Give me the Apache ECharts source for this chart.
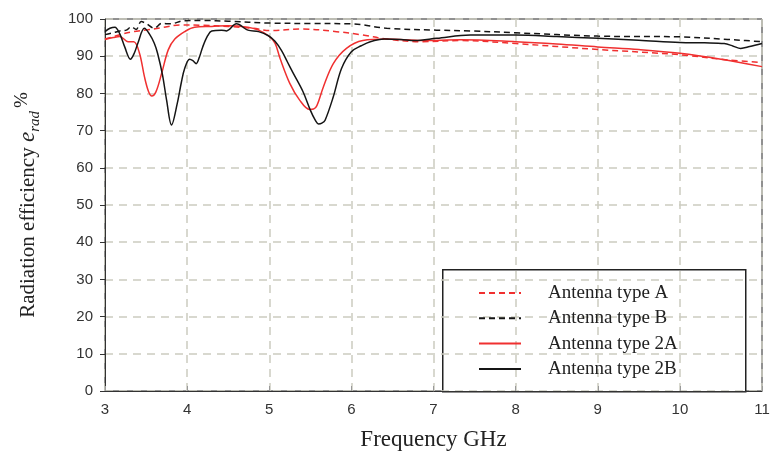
<!DOCTYPE html>
<html>
<head>
<meta charset="utf-8">
<script src="https://cdn.jsdelivr.net/npm/echarts@6/dist/echarts.min.js"></script>
<style>
  html, body { margin: 0; padding: 0; background: #fff; }
  #chart { width: 770px; height: 457px; }
</style>
</head>
<body>
<div id="chart"></div>
<script>
  /* axis ticks */
  var xTicks = [3, 4, 5, 6, 7, 8, 9, 10, 11];
  var yTicks = [0, 10, 20, 30, 40, 50, 60, 70, 80, 90, 100];

  /* Antenna type A (red dashed) */
  var freqA = [3.0, 3.17, 3.34, 3.52, 3.70, 3.91, 4.2, 4.5, 4.8, 5.0, 5.41, 5.82, 6.14, 6.43, 6.86, 7.33, 8.0, 9.0, 10.0, 10.58, 11.0];
  var effA  = [94.6, 95.7, 96.6, 97.1, 97.7, 98.4, 98.3, 98.0, 97.5, 96.9, 97.3, 96.6, 95.7, 94.6, 93.9, 94.2, 93.4, 91.8, 90.4, 89.0, 88.3];

  /* Antenna type B (black dashed) */
  var freqB = [3.0, 3.1, 3.18, 3.26, 3.32, 3.38, 3.44, 3.50, 3.60, 3.69, 3.80, 3.95, 4.2, 4.5, 5.0, 5.5, 6.0, 6.43, 7.04, 7.45, 8.0, 9.0, 10.0, 10.58, 10.8, 11.0];
  var effB  = [95.8, 96.3, 96.8, 97.0, 97.9, 97.2, 99.3, 98.8, 97.5, 98.8, 98.7, 99.5, 99.6, 99.4, 98.9, 98.8, 98.7, 97.5, 97.0, 96.8, 96.3, 95.4, 95.2, 94.5, 94.2, 93.9];

  /* Antenna type 2A (red solid) */
  var freq2A = [3.0, 3.1, 3.18, 3.28, 3.35, 3.42, 3.48, 3.53, 3.57, 3.62, 3.69, 3.77, 3.85, 3.97, 4.09, 4.3, 4.49, 4.74, 4.87, 4.99, 5.07, 5.13, 5.25, 5.37, 5.49, 5.54, 5.58, 5.66, 5.78, 5.94, 6.14, 6.43, 6.86, 7.33, 8.0, 8.5, 9.0, 9.5, 10.0, 10.5, 11.0];
  var eff2A  = [94.5, 95.0, 95.3, 93.9, 93.9, 90.8, 84.5, 80.5, 79.3, 80.4, 85.4, 91.7, 94.6, 96.6, 97.8, 98.0, 98.2, 97.8, 97.0, 95.5, 93.5, 89.5, 82.7, 78.2, 75.7, 75.8, 76.7, 81.8, 88.0, 92.1, 94.2, 94.6, 94.2, 94.4, 93.9, 93.3, 92.5, 91.8, 90.8, 89.2, 87.2];

  /* Antenna type 2B (black solid) */
  var freq2B = [3.0, 3.06, 3.12, 3.18, 3.24, 3.31, 3.36, 3.40, 3.48, 3.54, 3.60, 3.64, 3.70, 3.75, 3.81, 3.88, 3.93, 3.97, 4.03, 4.07, 4.11, 4.15, 4.19, 4.25, 4.30, 4.42, 4.48, 4.60, 4.74, 4.87, 4.99, 5.07, 5.15, 5.22, 5.29, 5.41, 5.50, 5.56, 5.60, 5.64, 5.68, 5.78, 5.88, 6.0, 6.12, 6.23, 6.4, 6.6, 6.77, 7.04, 7.45, 8.0, 8.5, 9.0, 9.5, 10.0, 10.3, 10.54, 10.65, 10.74, 10.85, 11.0];
  var eff2B  = [96.6, 97.5, 97.8, 96.0, 92.5, 89.2, 91.0, 93.5, 97.5, 96.0, 93.5, 90.8, 85.0, 78.2, 71.5, 77.3, 83.0, 86.7, 89.2, 88.8, 88.0, 89.8, 92.5, 95.5, 96.8, 97.0, 96.8, 98.7, 97.0, 96.6, 95.5, 94.0, 91.5, 88.5, 85.5, 80.5, 75.5, 72.8, 71.8, 72.0, 72.8, 79.1, 86.7, 91.2, 92.8, 93.9, 94.6, 94.5, 94.2, 94.8, 95.7, 95.7, 95.3, 94.8, 94.3, 93.7, 93.6, 93.4, 92.7, 92.1, 92.6, 93.4];

  function pairs(xs, ys) {
    var out = [];
    for (var i = 0; i < xs.length; i++) out.push([xs[i], ys[i]]);
    return out;
  }

  var RED = '#f03030';
  var BLACK = '#151515';
  var SERIF = '"Liberation Serif", "Times New Roman", serif';
  var SANS = '"Liberation Sans", Arial, sans-serif';

  function makeSeries(name, xs, ys, color, dashed) {
    return {
      name: name,
      type: 'line',
      data: pairs(xs, ys),
      smooth: 0.35,
      symbol: 'none',
      lineStyle: {
        color: color,
        width: 1.5,
        type: dashed ? [6, 4] : 'solid'
      },
      itemStyle: { color: color },
      z: dashed ? 2 : 3
    };
  }

  var chart = echarts.init(document.getElementById('chart'), null, { renderer: 'canvas' });

  var option = {
    animation: false,
    backgroundColor: '#fff',
    grid: {
      left: 105,
      right: 8,
      top: 19,
      bottom: 66,
      outerBoundsMode: 'none',
      show: true,
      borderColor: '#222',
      borderWidth: 1
    },
    xAxis: {
      type: 'value',
      min: xTicks[0],
      max: xTicks[xTicks.length - 1],
      interval: 1,
      name: 'Frequency GHz',
      nameLocation: 'middle',
      nameGap: 37,
      nameTextStyle: { fontFamily: SERIF, fontSize: 23, color: '#222' },
      axisLine: { lineStyle: { color: '#333', width: 1 } },
      axisTick: { inside: true, length: 5, lineStyle: { color: '#999' } },
      axisLabel: { fontFamily: SANS, fontSize: 15, color: '#333', margin: 11 },
      splitLine: { show: true, lineStyle: { color: '#cbcbc0', width: 1.5, type: [8, 6] } }
    },
    yAxis: {
      type: 'value',
      min: yTicks[0],
      max: yTicks[yTicks.length - 1],
      interval: 10,
      name: 'Radiation efficiency {e|e}{sub|rad}{sup|%}',
      nameLocation: 'middle',
      nameGap: 62,
      nameTextStyle: {
        fontFamily: SERIF,
        fontSize: 21,
        color: '#222',
        lineHeight: 30,
        rich: {
          e: { fontFamily: SERIF, fontStyle: 'italic', fontSize: 23, color: '#222', lineHeight: 30 },
          sub: { fontFamily: SERIF, fontStyle: 'italic', fontSize: 15, color: '#222', verticalAlign: 'bottom', lineHeight: 30, padding: [0, 3, 0, 0] },
          sup: { fontFamily: SERIF, fontSize: 19, color: '#222', verticalAlign: 'top', lineHeight: 30 }
        }
      },
      axisLine: { show: true, lineStyle: { color: '#333', width: 1 } },
      axisTick: { show: true, length: 5, lineStyle: { color: '#333' } },
      axisLabel: { fontFamily: SANS, fontSize: 15, color: '#333', margin: 12 },
      splitLine: { show: true, lineStyle: { color: '#cbcbc0', width: 1.5, type: [8, 6] } }
    },
    legend: {
      orient: 'vertical',
      left: 442,
      top: 269,
      padding: [14, 10, 10, 36],
      itemWidth: 42,
      itemHeight: 14,
      itemGap: 5.3,
      itemStyle: { color: 'rgba(0,0,0,0)', borderColor: 'rgba(0,0,0,0)', borderWidth: 0 },
      textStyle: { fontFamily: SERIF, fontSize: 19, color: '#222', lineHeight: 20, padding: [0, 0, 0, 22] },
      data: ['Antenna type A', 'Antenna type B', 'Antenna type 2A', 'Antenna type 2B']
    },
    graphic: [{
      type: 'rect',
      left: 442,
      top: 269,
      shape: { width: 303, height: 122 },
      style: { fill: '#fff', stroke: '#222', lineWidth: 1.5 },
      z: 0,
      zlevel: 0
    }],
    series: [
      makeSeries('Antenna type A', freqA, effA, RED, true),
      makeSeries('Antenna type B', freqB, effB, BLACK, true),
      makeSeries('Antenna type 2A', freq2A, eff2A, RED, false),
      makeSeries('Antenna type 2B', freq2B, eff2B, BLACK, false)
    ]
  };

  chart.setOption(option);
</script>
</body>
</html>
